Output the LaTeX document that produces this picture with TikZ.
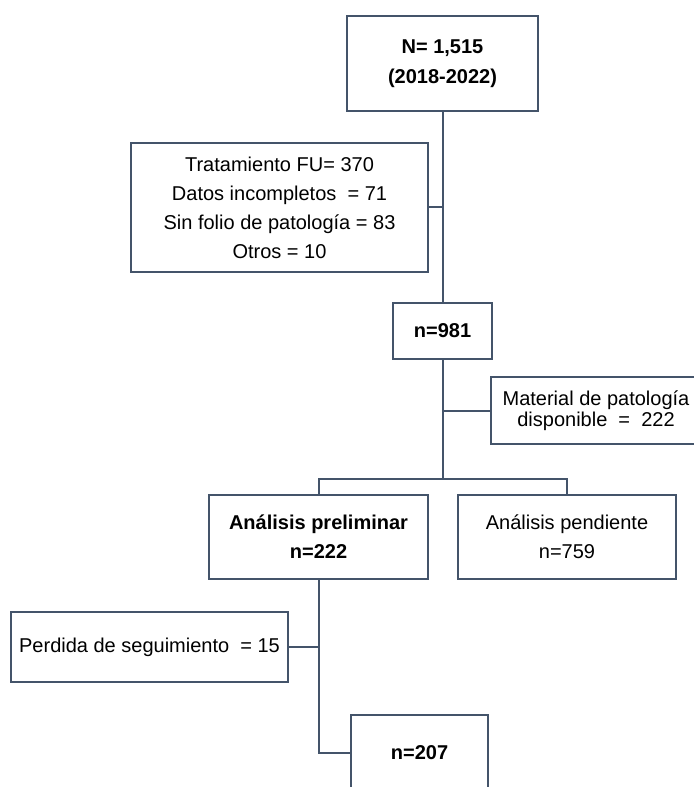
\documentclass[tikz,border=0pt]{standalone}
\usepackage{fontspec}
\setmainfont{Liberation Sans}
\usetikzlibrary{calc}

\begin{document}
\begin{tikzpicture}[x=0.75pt, y=-0.75pt,
    box/.style={draw=linegray, line width=1.5pt, align=center, inner sep=0pt,
        font=\fontsize{15}{21.75}\selectfont},
    size/.style 2 args={minimum width={#1*0.75pt}, minimum height={#2*0.75pt}},
    link/.style={draw=linegray, line width=1.5pt}]

    \definecolor{linegray}{HTML}{44546A}

    % Fix the page to the size of the reference
    \useasboundingbox (0,0) rectangle (693,787);

    % Main column of boxes
    \node[box, size={191}{95}, font=\fontsize{15}{22.5}\selectfont\bfseries]
        (total) at (442.5,64) {N= 1,515\\(2018-2022)};
    \node[box, size={99}{56}, font=\fontsize{15}{21.75}\selectfont\bfseries]
        (n981) at (442.5,331) {n=981};

    % Excluded cases on the left
    \node[box, size={297}{129}] (excl) at (279.5,207.5)
        {Tratamiento FU= 370\\Datos incompletos \ = 71\\Sin folio de patolog\'ia = 83\\Otros = 10};

    % Pathology material on the right (runs past the page edge)
    \node[box, size={210}{67}, font=\fontsize{15}{15.75}\selectfont]
        (material) at (596,410.5) {Material de patolog\'ia\\disponible \ = \ 222};

    % The two branches
    \node[box, size={219}{84}, font=\fontsize{15}{21.75}\selectfont\bfseries]
        (prelim) at (318.5,537) {An\'alisis preliminar\\n=222};
    \node[box, size={218}{84}] (pend) at (567,537)
        {An\'alisis pendiente\\n=759};

    % Lost to follow-up and final count
    \node[box, size={277}{70}] (lost) at (149.5,647)
        {Perdida de seguimiento \ = 15};
    \node[box, size={137}{76}, font=\fontsize{15}{21.75}\selectfont\bfseries]
        (n207) at (419.5,753) {n=207};

    % Split point above the two branches
    \coordinate (split) at (442.5,479);

    % Connectors
    \draw[link] (total.south) -- (n981.north);
    \draw[link] (excl.east) -- (excl.east -| total.south);
    \draw[link] (n981.south) -- (split);
    \draw[link] (material.west) -- (material.west -| n981.south);
    \draw[link] (prelim.north) |- (split) -| (pend.north);
    \draw[link] (prelim.south) |- (n207.west);
    \draw[link] (lost.east) -- (lost.east -| prelim.south);

\end{tikzpicture}
\end{document}
